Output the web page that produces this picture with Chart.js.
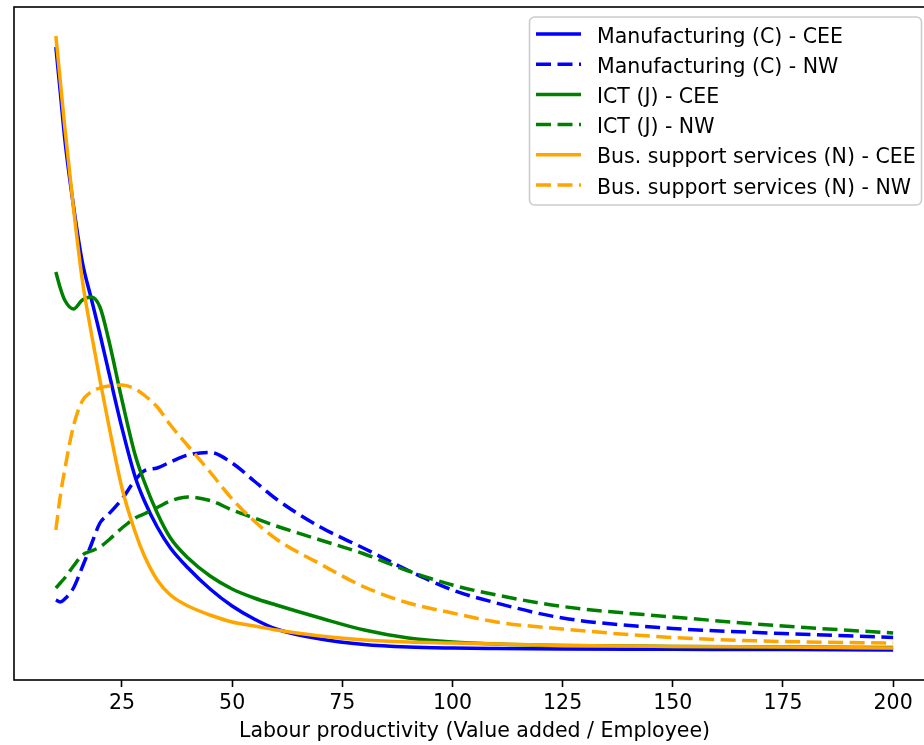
<!DOCTYPE html>
<html>
<head>
<meta charset="utf-8">
<script src="https://cdn.jsdelivr.net/npm/chart.js@4.4.1/dist/chart.umd.min.js"></script>
<style>
  html, body { margin: 0; padding: 0; overflow: hidden; background: #fff; }
  canvas { display: block; }
</style>
</head>
<body>
<canvas id="kde" width="945" height="745"></canvas>
<script>
// labour productivity grid (x) and density estimates
const xVals = [10, 11, 12, 14, 16, 18, 20, 22, 25, 28, 30, 33, 36, 40, 45, 50, 55, 60, 70, 80, 90, 100, 110, 125, 150, 175, 200];

const manufCEE = [0.0603, 0.0558, 0.0512, 0.0444, 0.0388, 0.0352, 0.0316, 0.0278, 0.0222, 0.0173, 0.0150, 0.0123, 0.0102, 0.0082, 0.0061, 0.0044, 0.0031, 0.0021, 0.0011, 0.00055, 0.0003, 0.0002, 0.00015, 0.0001, 0.00007, 0.00004, 0];
const manufNW  = [0.0050, 0.0048, 0.0051, 0.0062, 0.0083, 0.0105, 0.0127, 0.0136, 0.0151, 0.0170, 0.0179, 0.0182, 0.0188, 0.0195, 0.01975, 0.0187, 0.0169, 0.0151, 0.0123, 0.01015, 0.00795, 0.0060, 0.0047, 0.0032, 0.00215, 0.00165, 0.00125];
const ictCEE   = [0.0378, 0.0362, 0.0350, 0.0341, 0.0350, 0.0353, 0.0343, 0.0310, 0.0250, 0.0195, 0.0169, 0.0137, 0.0112, 0.0092, 0.0074, 0.0061, 0.0052, 0.0045, 0.0032, 0.0020, 0.0012, 0.0008, 0.0006, 0.00045, 0.00035, 0.0003, 0.00025];
const ictNW    = [0.0062, 0.0067, 0.0072, 0.0084, 0.0095, 0.0099, 0.0103, 0.0110, 0.0122, 0.0132, 0.0136, 0.01425, 0.0149, 0.0153, 0.01495, 0.0140, 0.0132, 0.0124, 0.0110, 0.0096, 0.0079, 0.0065, 0.0055, 0.00435, 0.0033, 0.0024, 0.0017];
const busCEE   = [0.0614, 0.0569, 0.0524, 0.0442, 0.0370, 0.0318, 0.0270, 0.0225, 0.0162, 0.0118, 0.0095, 0.0070, 0.0055, 0.0044, 0.0035, 0.0028, 0.0024, 0.0020, 0.0014, 0.0010, 0.0008, 0.0007, 0.0006, 0.00045, 0.00035, 0.0003, 0.0002];
const busNW    = [0.0120, 0.0154, 0.0180, 0.0224, 0.0249, 0.0258, 0.0262, 0.0264, 0.0265, 0.0261, 0.0255, 0.0243, 0.0225, 0.0204, 0.0178, 0.0151, 0.0129, 0.0111, 0.0086, 0.0063, 0.0047, 0.0037, 0.0028, 0.0021, 0.00125, 0.00085, 0.0007];

const seriesLabels = [
  'Manufacturing (C) - CEE', 'Manufacturing (C) - NW',
  'ICT (J) - CEE', 'ICT (J) - NW',
  'Bus. support services (N) - CEE', 'Bus. support services (N) - NW'
];
const xTicks = [25, 50, 75, 100, 125, 150, 175, 200];
const xTitle = 'Labour productivity (Value added / Employee)';

const FONT = 'DejaVu Sans';
const FSIZE = 20.5;
const DASH = [15, 6.5];
const LW = 3.5;

function pts(arr){ return xVals.map((x, i) => ({ x: x, y: arr[i] })); }

function line(label, arr, color, dashed, order){
  return {
    label: label, data: pts(arr), borderColor: color, backgroundColor: color,
    borderWidth: LW, borderDash: dashed ? DASH : [], borderCapStyle: 'butt',
    pointRadius: 0, pointHoverRadius: 0, fill: false,
    cubicInterpolationMode: 'monotone', order: order
  };
}

// matplotlib-like frame + legend box, drawn on top of the lines
const frameAndLegend = {
  id: 'frameAndLegend',
  afterDatasetsDraw(chart){
    const { ctx, chartArea: a } = chart;
    ctx.save();
    ctx.strokeStyle = '#000'; ctx.lineWidth = 1.6;
    ctx.strokeRect(a.left, a.top, a.right - a.left, a.bottom - a.top);
    ctx.restore();
  },
  afterDraw(chart){
    const ctx = chart.ctx;
    const bx = 529.5, by = 17, bw = 392, bh = 188, r = 5;
    ctx.save();
    ctx.beginPath();
    ctx.moveTo(bx + r, by);
    ctx.arcTo(bx + bw, by, bx + bw, by + bh, r);
    ctx.arcTo(bx + bw, by + bh, bx, by + bh, r);
    ctx.arcTo(bx, by + bh, bx, by, r);
    ctx.arcTo(bx, by, bx + bw, by, r);
    ctx.closePath();
    ctx.fillStyle = 'rgba(255,255,255,0.8)'; ctx.fill();
    ctx.strokeStyle = '#cccccc'; ctx.lineWidth = 1.6; ctx.stroke();

    chart.data.datasets.forEach((ds, i) => {
      const y = 34 + 30.2 * i;
      ctx.beginPath();
      ctx.setLineDash(ds.borderDash || []);
      ctx.lineDashOffset = 0;
      ctx.strokeStyle = ds.borderColor; ctx.lineWidth = LW; ctx.lineCap = 'butt';
      ctx.moveTo(536, y); ctx.lineTo(581, y); ctx.stroke();
      ctx.setLineDash([]);
      ctx.fillStyle = '#000';
      ctx.font = FSIZE + 'px "' + FONT + '"';
      ctx.textBaseline = 'alphabetic'; ctx.textAlign = 'left';
      ctx.fillText(ds.label, 597, y + 8.5);
    });
    ctx.restore();
  }
};

new Chart(document.getElementById('kde'), {
  type: 'line',
  data: {
    datasets: [
      line(seriesLabels[0], manufCEE, '#0000ff', false, 6),
      line(seriesLabels[1], manufNW,  '#0000ff', true, 5),
      line(seriesLabels[2], ictCEE,   '#008000', false, 4),
      line(seriesLabels[3], ictNW,    '#008000', true, 3),
      line(seriesLabels[4], busCEE,   '#ffa500', false, 2),
      line(seriesLabels[5], busNW,    '#ffa500', true, 1)
    ]
  },
  options: {
    responsive: false,
    animation: false,
    devicePixelRatio: 1,
    layout: { padding: { left: 14, top: 7, right: 10, bottom: 0 } },
    plugins: { legend: { display: false }, tooltip: { enabled: false } },
    scales: {
      x: {
        type: 'linear', min: 0.5, max: 209.5,
        afterBuildTicks: s => { s.ticks = xTicks.map(v => ({ value: v })); },
        afterFit: s => { s.height = 65; },
        grid: { drawOnChartArea: false, drawTicks: true, tickLength: 7, tickWidth: 1.6, tickColor: '#000' },
        border: { display: false },
        ticks: { color: '#000', font: { family: FONT, size: FSIZE }, padding: 4, maxRotation: 0, autoSkip: false },
        title: { display: true, text: xTitle, color: '#000', font: { family: FONT, size: FSIZE }, padding: { top: 0, bottom: 1 } }
      },
      y: { type: 'linear', min: -0.0030, max: 0.0643, display: false }
    }
  },
  plugins: [frameAndLegend]
});
</script>
</body>
</html>
